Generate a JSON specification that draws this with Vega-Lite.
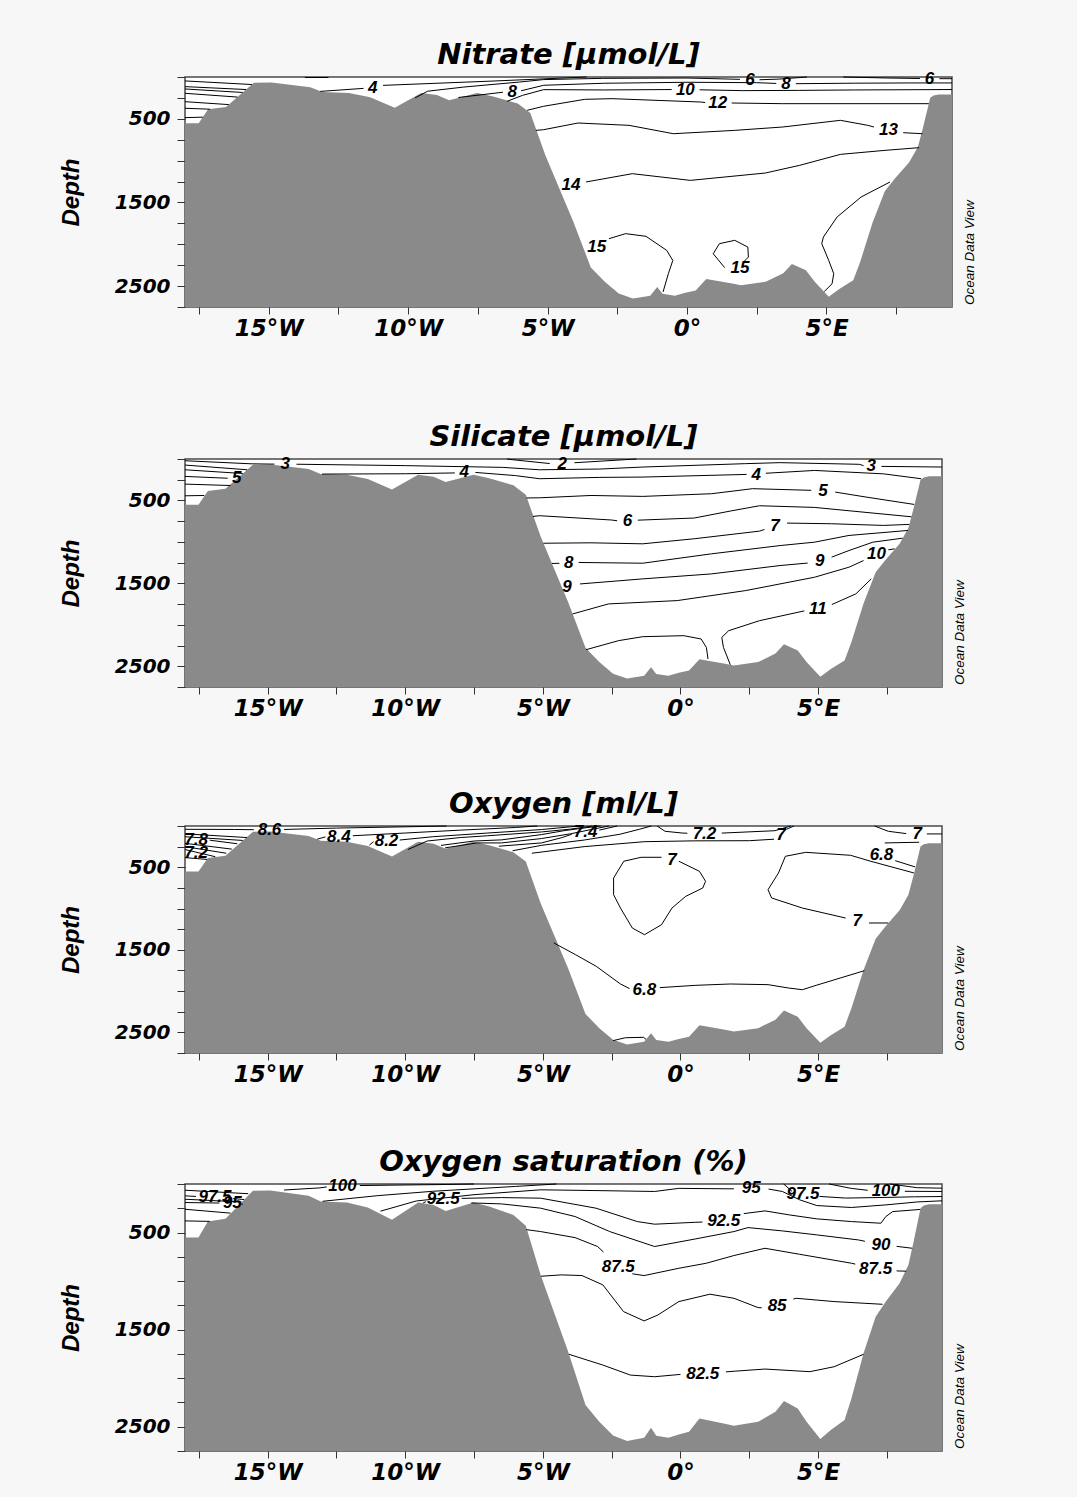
{
  "$schema": "https://vega.github.io/schema/vega-lite/v6.json",
  "background": "#f7f7f7",
  "padding": {"left": 58, "top": 40, "right": 104, "bottom": 14},
  "config": {
    "view": {"stroke": "#4a4a4a", "strokeWidth": 1.5, "fill": "white"},
    "title": {"font": "DejaVu Sans", "fontSize": 29, "fontStyle": "italic", "fontWeight": "bold", "color": "black", "offset": -3, "anchor": "middle"},
    "axis": {"grid": false, "domain": false, "tickColor": "#333", "labelColor": "black", "titleColor": "black", "labelFont": "DejaVu Sans", "labelFontStyle": "italic", "labelFontWeight": "bold", "labelOverlap": false, "labelFlush": false},
    "axisX": {"tickSize": 7, "labelFontSize": 23, "labelPadding": 3},
    "axisY": {"tickSize": 8, "labelFontSize": 20, "labelPadding": 7, "titleFont": "Liberation Sans", "titleFontSize": 24, "titleFontStyle": "italic", "titleFontWeight": "bold", "titlePadding": 31},
    "text": {"font": "Liberation Sans", "fontSize": 17, "fontStyle": "italic", "fontWeight": "bold", "color": "black"},
    "line": {"color": "black", "strokeWidth": 1}
  },
  "datasets": {
    "bathy": [
      {"lon": -18, "depth": 552}, {"lon": -17.51, "depth": 552}, {"lon": -17.17, "depth": 387}, {"lon": -16.53, "depth": 359}, {"lon": -15.53, "depth": 70}, {"lon": -14.9, "depth": 67}, {"lon": -13.51, "depth": 122}, {"lon": -13.07, "depth": 180}, {"lon": -12.12, "depth": 191}, {"lon": -11.36, "depth": 242}, {"lon": -10.48, "depth": 369}, {"lon": -9.53, "depth": 191}, {"lon": -8.97, "depth": 215}, {"lon": -8.53, "depth": 277}, {"lon": -7.52, "depth": 191}, {"lon": -6.95, "depth": 232}, {"lon": -6.07, "depth": 318}, {"lon": -5.62, "depth": 431}, {"lon": -5.08, "depth": 936}, {"lon": -4.08, "depth": 1727}, {"lon": -3.45, "depth": 2277}, {"lon": -2.95, "depth": 2449}, {"lon": -2.45, "depth": 2590}, {"lon": -1.94, "depth": 2648}, {"lon": -1.32, "depth": 2614}, {"lon": -1.07, "depth": 2511}, {"lon": -0.88, "depth": 2593}, {"lon": -0.44, "depth": 2614}, {"lon": -0.06, "depth": 2579}, {"lon": 0.31, "depth": 2552}, {"lon": 0.69, "depth": 2414}, {"lon": 1.57, "depth": 2466}, {"lon": 1.94, "depth": 2490}, {"lon": 2.82, "depth": 2449}, {"lon": 3.45, "depth": 2346}, {"lon": 3.76, "depth": 2235}, {"lon": 4.26, "depth": 2311}, {"lon": 4.58, "depth": 2449}, {"lon": 5.08, "depth": 2627}, {"lon": 5.46, "depth": 2534}, {"lon": 5.96, "depth": 2431}, {"lon": 6.21, "depth": 2208}, {"lon": 6.65, "depth": 1744}, {"lon": 7.09, "depth": 1366}, {"lon": 7.46, "depth": 1211}, {"lon": 7.96, "depth": 1022}, {"lon": 8.28, "depth": 833}, {"lon": 8.47, "depth": 593}, {"lon": 8.72, "depth": 249}, {"lon": 8.84, "depth": 222}, {"lon": 9.03, "depth": 208}, {"lon": 9.5, "depth": 208}
    ],
    "odv": [{"lon": 9.5, "depth": 2750, "t": "Ocean Data View"}],
    "no3": [
      {"id": "L1", "lon": -18, "depth": 47}, {"id": "L1", "lon": -15.6, "depth": 90},
      {"id": "L2", "lon": -18, "depth": 115}, {"id": "L2", "lon": -15.81, "depth": 150},
      {"id": "L3", "lon": -18, "depth": 143}, {"id": "L3", "lon": -15.93, "depth": 185},
      {"id": "L4", "lon": -18, "depth": 195}, {"id": "L4", "lon": -16.12, "depth": 240},
      {"id": "L5", "lon": -18, "depth": 295}, {"id": "L5", "lon": -16.43, "depth": 330},
      {"id": "L6", "lon": -18, "depth": 374}, {"id": "L6", "lon": -17.1, "depth": 385},
      {"id": "L7", "lon": -18, "depth": 486}, {"id": "L7", "lon": -17.36, "depth": 480},
      {"id": "T", "lon": -13.7, "depth": 6}, {"id": "T", "lon": -12.86, "depth": 6},
      {"id": "c4a", "lon": -13.15, "depth": 172}, {"id": "c4a", "lon": -11.6, "depth": 136},
      {"id": "c4b", "lon": -10.9, "depth": 100}, {"id": "c4b", "lon": -6.92, "depth": 48}, {"id": "c4b", "lon": -3.6, "depth": 0},
      {"id": "c6a", "lon": -9.75, "depth": 250}, {"id": "c6a", "lon": -9.3, "depth": 170}, {"id": "c6a", "lon": -8, "depth": 120}, {"id": "c6a", "lon": -6, "depth": 60}, {"id": "c6a", "lon": -5.14, "depth": 31}, {"id": "c6a", "lon": -2.99, "depth": 16}, {"id": "c6a", "lon": 0, "depth": 12}, {"id": "c6a", "lon": 1.9, "depth": 28},
      {"id": "c6b", "lon": 2.6, "depth": 33}, {"id": "c6b", "lon": 3.3, "depth": 25}, {"id": "c6b", "lon": 4.3, "depth": 0},
      {"id": "c6c", "lon": 5.6, "depth": 0}, {"id": "c6c", "lon": 7.2, "depth": 12}, {"id": "c6c", "lon": 8.35, "depth": 18},
      {"id": "c6d", "lon": 9.05, "depth": 20}, {"id": "c6d", "lon": 9.5, "depth": 20},
      {"id": "c8a", "lon": -8.2, "depth": 245}, {"id": "c8a", "lon": -6.6, "depth": 182},
      {"id": "c8b", "lon": -5.95, "depth": 165}, {"id": "c8b", "lon": -5.14, "depth": 99}, {"id": "c8b", "lon": -2.99, "depth": 75}, {"id": "c8b", "lon": 0, "depth": 63}, {"id": "c8b", "lon": 2.5, "depth": 68}, {"id": "c8b", "lon": 3.2, "depth": 77},
      {"id": "c8c", "lon": 3.9, "depth": 80}, {"id": "c8c", "lon": 6, "depth": 74}, {"id": "c8c", "lon": 8, "depth": 71}, {"id": "c8c", "lon": 9.5, "depth": 71},
      {"id": "c10a", "lon": -6.45, "depth": 290}, {"id": "c10a", "lon": -5.9, "depth": 220}, {"id": "c10a", "lon": -5.14, "depth": 151}, {"id": "c10a", "lon": -2.99, "depth": 155}, {"id": "c10a", "lon": -0.55, "depth": 150},
      {"id": "c10b", "lon": 0.45, "depth": 153}, {"id": "c10b", "lon": 2, "depth": 163}, {"id": "c10b", "lon": 4, "depth": 160}, {"id": "c10b", "lon": 6, "depth": 155}, {"id": "c10b", "lon": 9.5, "depth": 150},
      {"id": "c12a", "lon": -5.73, "depth": 398}, {"id": "c12a", "lon": -5.14, "depth": 350}, {"id": "c12a", "lon": -3.67, "depth": 267}, {"id": "c12a", "lon": -2.69, "depth": 259}, {"id": "c12a", "lon": 0.49, "depth": 299}, {"id": "c12a", "lon": 0.65, "depth": 305},
      {"id": "c12b", "lon": 1.6, "depth": 311}, {"id": "c12b", "lon": 3.43, "depth": 319}, {"id": "c12b", "lon": 8.67, "depth": 319},
      {"id": "c13a", "lon": -5.42, "depth": 638}, {"id": "c13a", "lon": -5.14, "depth": 630}, {"id": "c13a", "lon": -3.91, "depth": 550}, {"id": "c13a", "lon": -2.08, "depth": 578}, {"id": "c13a", "lon": -0.49, "depth": 678}, {"id": "c13a", "lon": 1.71, "depth": 638}, {"id": "c13a", "lon": 3.43, "depth": 598}, {"id": "c13a", "lon": 5.5, "depth": 518}, {"id": "c13a", "lon": 6.48, "depth": 578}, {"id": "c13a", "lon": 6.7, "depth": 598},
      {"id": "c13b", "lon": 7.75, "depth": 666}, {"id": "c13b", "lon": 8.44, "depth": 678},
      {"id": "c14", "lon": -3.62, "depth": 1255}, {"id": "c14", "lon": -1.96, "depth": 1156}, {"id": "c14", "lon": 0.12, "depth": 1236}, {"id": "c14", "lon": 2.81, "depth": 1148}, {"id": "c14", "lon": 4.04, "depth": 1056}, {"id": "c14", "lon": 5.5, "depth": 925}, {"id": "c14", "lon": 7.1, "depth": 877}, {"id": "c14", "lon": 8.32, "depth": 845},
      {"id": "c15a", "lon": -2.8, "depth": 1933}, {"id": "c15a", "lon": -2.2, "depth": 1873}, {"id": "c15a", "lon": -1.47, "depth": 1905}, {"id": "c15a", "lon": -0.73, "depth": 2073}, {"id": "c15a", "lon": -0.51, "depth": 2193}, {"id": "c15a", "lon": -0.67, "depth": 2352}, {"id": "c15a", "lon": -0.86, "depth": 2570},
      {"id": "c15b", "lon": 1.35, "depth": 2280}, {"id": "c15b", "lon": 0.94, "depth": 2113}, {"id": "c15b", "lon": 1.16, "depth": 1993}, {"id": "c15b", "lon": 1.71, "depth": 1953}, {"id": "c15b", "lon": 2.18, "depth": 2033}, {"id": "c15b", "lon": 2.2, "depth": 2153}, {"id": "c15b", "lon": 2.02, "depth": 2213},
      {"id": "c15c", "lon": 7.28, "depth": 1255}, {"id": "c15c", "lon": 6.24, "depth": 1435}, {"id": "c15c", "lon": 5.38, "depth": 1674}, {"id": "c15c", "lon": 4.89, "depth": 1913}, {"id": "c15c", "lon": 4.83, "depth": 1993}, {"id": "c15c", "lon": 5.08, "depth": 2193}, {"id": "c15c", "lon": 5.26, "depth": 2352}, {"id": "c15c", "lon": 5.2, "depth": 2472}, {"id": "c15c", "lon": 4.92, "depth": 2565}
    ],
    "no3l": [
      {"lon": -11.27, "depth": 127, "t": "4"}, {"lon": -6.27, "depth": 175, "t": "8"}, {"lon": -0.06, "depth": 151, "t": "10"}, {"lon": 2.26, "depth": 31, "t": "6"}, {"lon": 3.55, "depth": 79, "t": "8"}, {"lon": 8.69, "depth": 19, "t": "6"},
      {"lon": 1.1, "depth": 311, "t": "12"}, {"lon": 7.22, "depth": 638, "t": "13"}, {"lon": -4.16, "depth": 1295, "t": "14"}, {"lon": -3.24, "depth": 2033, "t": "15"}, {"lon": 1.9, "depth": 2280, "t": "15"}
    ],
    "sil": [
      {"id": "L2", "lon": -18, "depth": 73}, {"id": "L2", "lon": -15.74, "depth": 130},
      {"id": "L3", "lon": -18, "depth": 130}, {"id": "L3", "lon": -15.9, "depth": 175},
      {"id": "L4", "lon": -18, "depth": 210}, {"id": "L4", "lon": -16.45, "depth": 232},
      {"id": "L5", "lon": -18, "depth": 303}, {"id": "L5", "lon": -16.35, "depth": 320},
      {"id": "L6", "lon": -18, "depth": 444}, {"id": "L6", "lon": -17.3, "depth": 440},
      {"id": "s2a", "lon": -6.3, "depth": 0}, {"id": "s2a", "lon": -6.09, "depth": 9}, {"id": "s2a", "lon": -4.75, "depth": 55},
      {"id": "s2b", "lon": -3.85, "depth": 45}, {"id": "s2b", "lon": -2, "depth": 8}, {"id": "s2b", "lon": -1.6, "depth": 0},
      {"id": "s3a", "lon": -18, "depth": 21}, {"id": "s3a", "lon": -15.6, "depth": 58}, {"id": "s3a", "lon": -14.75, "depth": 62},
      {"id": "s3b", "lon": -13.95, "depth": 63}, {"id": "s3b", "lon": -10, "depth": 80}, {"id": "s3b", "lon": -6.46, "depth": 101}, {"id": "s3b", "lon": -5.12, "depth": 130}, {"id": "s3b", "lon": -2.93, "depth": 121}, {"id": "s3b", "lon": -1.37, "depth": 97}, {"id": "s3b", "lon": 2.37, "depth": 56}, {"id": "s3b", "lon": 3.62, "depth": 44}, {"id": "s3b", "lon": 6.49, "depth": 64}, {"id": "s3b", "lon": 6.65, "depth": 80},
      {"id": "s3c", "lon": 7.3, "depth": 89}, {"id": "s3c", "lon": 9.5, "depth": 97},
      {"id": "s4a", "lon": -13.02, "depth": 182}, {"id": "s4a", "lon": -10, "depth": 178}, {"id": "s4a", "lon": -8.2, "depth": 168},
      {"id": "s4b", "lon": -7.45, "depth": 162}, {"id": "s4b", "lon": -6, "depth": 200}, {"id": "s4b", "lon": -5.12, "depth": 238}, {"id": "s4b", "lon": -2.93, "depth": 222}, {"id": "s4b", "lon": -1.37, "depth": 218}, {"id": "s4b", "lon": 2.4, "depth": 186},
      {"id": "s4c", "lon": 3.1, "depth": 172}, {"id": "s4c", "lon": 4.87, "depth": 138}, {"id": "s4c", "lon": 7.37, "depth": 179}, {"id": "s4c", "lon": 8.74, "depth": 238},
      {"id": "s5a", "lon": -5.6, "depth": 470}, {"id": "s5a", "lon": -5.12, "depth": 468}, {"id": "s5a", "lon": -3.25, "depth": 440}, {"id": "s5a", "lon": -1.37, "depth": 451}, {"id": "s5a", "lon": 1.12, "depth": 419}, {"id": "s5a", "lon": 2.62, "depth": 358}, {"id": "s5a", "lon": 4.75, "depth": 378},
      {"id": "s5b", "lon": 5.62, "depth": 399}, {"id": "s5b", "lon": 6.74, "depth": 459}, {"id": "s5b", "lon": 8.49, "depth": 548},
      {"id": "s6a", "lon": -5.36, "depth": 693}, {"id": "s6a", "lon": -5.12, "depth": 684}, {"id": "s6a", "lon": -2.5, "depth": 736}, {"id": "s6a", "lon": -2.3, "depth": 745},
      {"id": "s6b", "lon": -1.55, "depth": 738}, {"id": "s6b", "lon": 0.5, "depth": 712}, {"id": "s6b", "lon": 1.87, "depth": 624}, {"id": "s6b", "lon": 2.87, "depth": 564}, {"id": "s6b", "lon": 4.87, "depth": 584}, {"id": "s6b", "lon": 6.74, "depth": 644}, {"id": "s6b", "lon": 8.39, "depth": 697},
      {"id": "s7a", "lon": -4.98, "depth": 1016}, {"id": "s7a", "lon": -3.25, "depth": 1011}, {"id": "s7a", "lon": -1.37, "depth": 1023}, {"id": "s7a", "lon": 0.5, "depth": 962}, {"id": "s7a", "lon": 2.87, "depth": 870}, {"id": "s7a", "lon": 3.05, "depth": 850},
      {"id": "s7b", "lon": 3.87, "depth": 773}, {"id": "s7b", "lon": 5.49, "depth": 781}, {"id": "s7b", "lon": 7.37, "depth": 801}, {"id": "s7b", "lon": 8.31, "depth": 789},
      {"id": "s8a", "lon": -4.67, "depth": 1260}, {"id": "s8a", "lon": -4.4, "depth": 1258},
      {"id": "s8b", "lon": -3.7, "depth": 1248}, {"id": "s8b", "lon": -1.37, "depth": 1257}, {"id": "s8b", "lon": 1.12, "depth": 1144}, {"id": "s8b", "lon": 3.62, "depth": 1044}, {"id": "s8b", "lon": 4.87, "depth": 1003}, {"id": "s8b", "lon": 6.12, "depth": 922}, {"id": "s8b", "lon": 8.26, "depth": 862},
      {"id": "s9a", "lon": -3.65, "depth": 1507}, {"id": "s9a", "lon": -1.37, "depth": 1446}, {"id": "s9a", "lon": 1.12, "depth": 1386}, {"id": "s9a", "lon": 3.62, "depth": 1285}, {"id": "s9a", "lon": 4.62, "depth": 1255},
      {"id": "s9b", "lon": 5.49, "depth": 1184}, {"id": "s9b", "lon": 6.12, "depth": 1104}, {"id": "s9b", "lon": 6.99, "depth": 1003}, {"id": "s9b", "lon": 8.07, "depth": 955},
      {"id": "s10a", "lon": -3.92, "depth": 1869}, {"id": "s10a", "lon": -2.62, "depth": 1748}, {"id": "s10a", "lon": -0.12, "depth": 1708}, {"id": "s10a", "lon": 2.37, "depth": 1587}, {"id": "s10a", "lon": 4.87, "depth": 1426}, {"id": "s10a", "lon": 6.12, "depth": 1305}, {"id": "s10a", "lon": 6.65, "depth": 1225},
      {"id": "s10b", "lon": 7.55, "depth": 1095}, {"id": "s10b", "lon": 7.78, "depth": 1084},
      {"id": "s11a", "lon": -3.43, "depth": 2300}, {"id": "s11a", "lon": -2.25, "depth": 2191}, {"id": "s11a", "lon": -1.37, "depth": 2143}, {"id": "s11a", "lon": 0.12, "depth": 2131}, {"id": "s11a", "lon": 0.75, "depth": 2171}, {"id": "s11a", "lon": 0.94, "depth": 2272}, {"id": "s11a", "lon": 1.0, "depth": 2413},
      {"id": "s11b", "lon": 1.81, "depth": 2482}, {"id": "s11b", "lon": 1.56, "depth": 2272}, {"id": "s11b", "lon": 1.5, "depth": 2151}, {"id": "s11b", "lon": 1.75, "depth": 2071}, {"id": "s11b", "lon": 2.87, "depth": 1950}, {"id": "s11b", "lon": 4.5, "depth": 1832},
      {"id": "s11c", "lon": 5.5, "depth": 1755}, {"id": "s11c", "lon": 6.37, "depth": 1627}, {"id": "s11c", "lon": 6.93, "depth": 1446}
    ],
    "sill": [
      {"lon": -4.3, "depth": 55, "t": "2"}, {"lon": -14.36, "depth": 61, "t": "3"}, {"lon": 6.93, "depth": 89, "t": "3"}, {"lon": -7.86, "depth": 154, "t": "4"}, {"lon": 2.75, "depth": 190, "t": "4"}, {"lon": -16.12, "depth": 234, "t": "5"}, {"lon": 5.18, "depth": 386, "t": "5"},
      {"lon": -1.93, "depth": 752, "t": "6"}, {"lon": 3.43, "depth": 813, "t": "7"}, {"lon": -4.06, "depth": 1257, "t": "8"}, {"lon": -4.12, "depth": 1547, "t": "9"}, {"lon": 5.06, "depth": 1233, "t": "9"}, {"lon": 7.12, "depth": 1144, "t": "10"}, {"lon": 4.99, "depth": 1809, "t": "11"}
    ],
    "oxy": [
      {"id": "L1", "lon": -18, "depth": 40}, {"id": "L1", "lon": -16.2, "depth": 42}, {"id": "L1", "lon": -15.5, "depth": 45},
      {"id": "L1b", "lon": -14.4, "depth": 42}, {"id": "L1b", "lon": -12.5, "depth": 25}, {"id": "L1b", "lon": -10, "depth": 10}, {"id": "L1b", "lon": -8.5, "depth": 0},
      {"id": "L2", "lon": -18, "depth": 95}, {"id": "L2", "lon": -15.75, "depth": 140},
      {"id": "L3", "lon": -18, "depth": 130}, {"id": "L3", "lon": -15.9, "depth": 175},
      {"id": "L4", "lon": -17.1, "depth": 172}, {"id": "L4", "lon": -16.1, "depth": 215},
      {"id": "L5", "lon": -18, "depth": 210}, {"id": "L5", "lon": -16.3, "depth": 280},
      {"id": "L6", "lon": -18, "depth": 250}, {"id": "L6", "lon": -16.5, "depth": 330},
      {"id": "L7", "lon": -18, "depth": 285}, {"id": "L7", "lon": -16.9, "depth": 372},
      {"id": "L8", "lon": -18, "depth": 383}, {"id": "L8", "lon": -17.2, "depth": 405},
      {"id": "o84a", "lon": -13.2, "depth": 160}, {"id": "o84a", "lon": -12.9, "depth": 132},
      {"id": "o84b", "lon": -11.9, "depth": 118}, {"id": "o84b", "lon": -10, "depth": 85}, {"id": "o84b", "lon": -8, "depth": 50}, {"id": "o84b", "lon": -6, "depth": 18}, {"id": "o84b", "lon": -5.2, "depth": 0},
      {"id": "o82a", "lon": -11.3, "depth": 232}, {"id": "o82a", "lon": -11.15, "depth": 190},
      {"id": "o82b", "lon": -10.2, "depth": 170}, {"id": "o82b", "lon": -9, "depth": 130}, {"id": "o82b", "lon": -7, "depth": 85}, {"id": "o82b", "lon": -5.05, "depth": 43}, {"id": "o82b", "lon": -4, "depth": 10}, {"id": "o82b", "lon": -3.6, "depth": 0},
      {"id": "o80", "lon": -9.9, "depth": 285}, {"id": "o80", "lon": -9.2, "depth": 182}, {"id": "o80", "lon": -8, "depth": 140}, {"id": "o80", "lon": -7, "depth": 118}, {"id": "o80", "lon": -5.05, "depth": 72}, {"id": "o80", "lon": -4, "depth": 38}, {"id": "o80", "lon": -3.2, "depth": 0},
      {"id": "o78", "lon": -8.7, "depth": 235}, {"id": "o78", "lon": -7.5, "depth": 182}, {"id": "o78", "lon": -6.5, "depth": 168}, {"id": "o78", "lon": -5.05, "depth": 104}, {"id": "o78", "lon": -4.2, "depth": 55}, {"id": "o78", "lon": -3.4, "depth": 20}, {"id": "o78", "lon": -2.9, "depth": 0},
      {"id": "o76", "lon": -8.55, "depth": 265}, {"id": "o76", "lon": -7.4, "depth": 205}, {"id": "o76", "lon": -6.5, "depth": 205}, {"id": "o76", "lon": -5.05, "depth": 152}, {"id": "o76", "lon": -4, "depth": 95}, {"id": "o76", "lon": -3.2, "depth": 40}, {"id": "o76", "lon": -2.6, "depth": 0},
      {"id": "o74a", "lon": -6.6, "depth": 245}, {"id": "o74a", "lon": -5.05, "depth": 205}, {"id": "o74a", "lon": -4.3, "depth": 140}, {"id": "o74a", "lon": -3.95, "depth": 100},
      {"id": "o74b", "lon": -2.95, "depth": 50}, {"id": "o74b", "lon": -2.3, "depth": 0},
      {"id": "o72a", "lon": -6.1, "depth": 300}, {"id": "o72a", "lon": -5.05, "depth": 234}, {"id": "o72a", "lon": -3.5, "depth": 170}, {"id": "o72a", "lon": -2.2, "depth": 100}, {"id": "o72a", "lon": -1.5, "depth": 40}, {"id": "o72a", "lon": -1.06, "depth": 0},
      {"id": "o72b", "lon": -0.85, "depth": 0}, {"id": "o72b", "lon": -0.56, "depth": 64}, {"id": "o72b", "lon": 0.06, "depth": 85}, {"id": "o72b", "lon": 0.25, "depth": 88},
      {"id": "o72c", "lon": 1.5, "depth": 86}, {"id": "o72c", "lon": 3.43, "depth": 57}, {"id": "o72c", "lon": 4.0, "depth": 0},
      {"id": "o70a", "lon": -5.4, "depth": 330}, {"id": "o70a", "lon": -3.5, "depth": 250}, {"id": "o70a", "lon": -1.3, "depth": 190}, {"id": "o70a", "lon": 0.5, "depth": 180}, {"id": "o70a", "lon": 2.5, "depth": 178}, {"id": "o70a", "lon": 3.4, "depth": 160},
      {"id": "o70b", "lon": 3.85, "depth": 40}, {"id": "o70b", "lon": 4.12, "depth": 0},
      {"id": "o70c", "lon": 7.05, "depth": 0}, {"id": "o70c", "lon": 7.55, "depth": 64}, {"id": "o70c", "lon": 8.2, "depth": 92},
      {"id": "o70d", "lon": 8.95, "depth": 96}, {"id": "o70d", "lon": 9.5, "depth": 96},
      {"id": "o69", "lon": 7.42, "depth": 205}, {"id": "o69", "lon": 8.67, "depth": 197},
      {"id": "o7L", "lon": -0.06, "depth": 427}, {"id": "o7L", "lon": 0.69, "depth": 549}, {"id": "o7L", "lon": 0.91, "depth": 670}, {"id": "o7L", "lon": 0.81, "depth": 751}, {"id": "o7L", "lon": 0.19, "depth": 852}, {"id": "o7L", "lon": -0.31, "depth": 994}, {"id": "o7L", "lon": -0.69, "depth": 1196}, {"id": "o7L", "lon": -1.31, "depth": 1317}, {"id": "o7L", "lon": -1.75, "depth": 1236}, {"id": "o7L", "lon": -2.18, "depth": 994}, {"id": "o7L", "lon": -2.43, "depth": 832}, {"id": "o7L", "lon": -2.43, "depth": 630}, {"id": "o7L", "lon": -2.06, "depth": 427}, {"id": "o7L", "lon": -1.43, "depth": 379}, {"id": "o7L", "lon": -0.69, "depth": 379},
      {"id": "o7Ra", "lon": 7.55, "depth": 1175}, {"id": "o7Ra", "lon": 6.85, "depth": 1175},
      {"id": "o7Rb", "lon": 6.0, "depth": 1115}, {"id": "o7Rb", "lon": 4.43, "depth": 994}, {"id": "o7Rb", "lon": 3.31, "depth": 872}, {"id": "o7Rb", "lon": 3.18, "depth": 771}, {"id": "o7Rb", "lon": 3.56, "depth": 569}, {"id": "o7Rb", "lon": 3.81, "depth": 367}, {"id": "o7Rb", "lon": 4.55, "depth": 319}, {"id": "o7Rb", "lon": 6.18, "depth": 355}, {"id": "o7Rb", "lon": 6.92, "depth": 428}, {"id": "o7Rb", "lon": 8.48, "depth": 569},
      {"id": "o68r", "lon": 7.8, "depth": 420}, {"id": "o68r", "lon": 8.52, "depth": 495},
      {"id": "o68a", "lon": -4.6, "depth": 1417}, {"id": "o68a", "lon": -3.81, "depth": 1559}, {"id": "o68a", "lon": -3.06, "depth": 1700}, {"id": "o68a", "lon": -2.18, "depth": 1914}, {"id": "o68a", "lon": -1.85, "depth": 1970},
      {"id": "o68b", "lon": -0.75, "depth": 1958}, {"id": "o68b", "lon": 0.56, "depth": 1930}, {"id": "o68b", "lon": 1.81, "depth": 1914}, {"id": "o68b", "lon": 3.18, "depth": 1922}, {"id": "o68b", "lon": 3.93, "depth": 1963}, {"id": "o68b", "lon": 4.43, "depth": 1983}, {"id": "o68b", "lon": 4.93, "depth": 1930}, {"id": "o68b", "lon": 5.8, "depth": 1842}, {"id": "o68b", "lon": 6.68, "depth": 1753},
      {"id": "o68c", "lon": -2.45, "depth": 2600}, {"id": "o68c", "lon": -2.0, "depth": 2565}, {"id": "o68c", "lon": -1.34, "depth": 2560}, {"id": "o68c", "lon": -1.25, "depth": 2585}
    ],
    "oxyl": [
      {"lon": -17.6, "depth": 169, "t": "7.8"}, {"lon": -17.6, "depth": 322, "t": "7.2"}, {"lon": -14.93, "depth": 47, "t": "8.6"}, {"lon": -12.41, "depth": 128, "t": "8.4"}, {"lon": -10.68, "depth": 181, "t": "8.2"}, {"lon": -3.45, "depth": 72, "t": "7.4"},
      {"lon": 0.87, "depth": 96, "t": "7.2"}, {"lon": 3.65, "depth": 105, "t": "7"}, {"lon": 8.6, "depth": 96, "t": "7"}, {"lon": 7.3, "depth": 346, "t": "6.8"},
      {"lon": -0.31, "depth": 407, "t": "7"}, {"lon": 6.42, "depth": 1155, "t": "7"}, {"lon": -1.31, "depth": 1983, "t": "6.8"}
    ],
    "sat": [
      {"id": "L1", "lon": -18, "depth": 64}, {"id": "L1", "lon": -15.7, "depth": 100},
      {"id": "L2a", "lon": -18, "depth": 122}, {"id": "L2a", "lon": -17.6, "depth": 128},
      {"id": "L2b", "lon": -16.25, "depth": 150}, {"id": "L2b", "lon": -15.85, "depth": 160},
      {"id": "L3", "lon": -18, "depth": 157}, {"id": "L3", "lon": -15.95, "depth": 185},
      {"id": "L4a", "lon": -18, "depth": 191}, {"id": "L4a", "lon": -16.75, "depth": 196},
      {"id": "L4b", "lon": -15.95, "depth": 205}, {"id": "L4b", "lon": -15.9, "depth": 210},
      {"id": "L5", "lon": -18, "depth": 260}, {"id": "L5", "lon": -16.35, "depth": 300},
      {"id": "L6", "lon": -18, "depth": 380}, {"id": "L6", "lon": -17.1, "depth": 385},
      {"id": "p100a", "lon": -14.4, "depth": 62}, {"id": "p100a", "lon": -13.1, "depth": 40}, {"id": "p100a", "lon": -12.85, "depth": 30},
      {"id": "p100b", "lon": -11.65, "depth": 16}, {"id": "p100b", "lon": -10, "depth": 10}, {"id": "p100b", "lon": -8.5, "depth": 5}, {"id": "p100b", "lon": -7.5, "depth": 0},
      {"id": "p975", "lon": -13.0, "depth": 178}, {"id": "p975", "lon": -11, "depth": 120}, {"id": "p975", "lon": -9, "depth": 75}, {"id": "p975", "lon": -7.5, "depth": 50}, {"id": "p975", "lon": -6, "depth": 25}, {"id": "p975", "lon": -4.5, "depth": 0},
      {"id": "p95a", "lon": -10.9, "depth": 280}, {"id": "p95a", "lon": -9.6, "depth": 175}, {"id": "p95a", "lon": -7.5, "depth": 110}, {"id": "p95a", "lon": -5.08, "depth": 60}, {"id": "p95a", "lon": -3, "depth": 68}, {"id": "p95a", "lon": -0.94, "depth": 77}, {"id": "p95a", "lon": -0.06, "depth": 45}, {"id": "p95a", "lon": 1.94, "depth": 50},
      {"id": "p95b", "lon": 3.2, "depth": 52}, {"id": "p95b", "lon": 3.7, "depth": 77}, {"id": "p95b", "lon": 4.33, "depth": 163}, {"id": "p95b", "lon": 4.95, "depth": 222}, {"id": "p95b", "lon": 6.21, "depth": 242}, {"id": "p95b", "lon": 7.46, "depth": 215}, {"id": "p95b", "lon": 8.6, "depth": 185}, {"id": "p95b", "lon": 9.5, "depth": 173},
      {"id": "p975r", "lon": 3.75, "depth": 0}, {"id": "p975r", "lon": 3.95, "depth": 50}, {"id": "p975r", "lon": 4.05, "depth": 75},
      {"id": "p975s", "lon": 5.05, "depth": 128}, {"id": "p975s", "lon": 6, "depth": 145}, {"id": "p975s", "lon": 7.5, "depth": 138}, {"id": "p975s", "lon": 8.5, "depth": 132}, {"id": "p975s", "lon": 9.5, "depth": 129},
      {"id": "p100r", "lon": 5.4, "depth": 0}, {"id": "p100r", "lon": 6.2, "depth": 45}, {"id": "p100r", "lon": 6.8, "depth": 65},
      {"id": "p100s", "lon": 8.15, "depth": 75}, {"id": "p100s", "lon": 9.5, "depth": 77},
      {"id": "p1025r", "lon": 7.6, "depth": 0}, {"id": "p1025r", "lon": 8.6, "depth": 38}, {"id": "p1025r", "lon": 9.5, "depth": 43},
      {"id": "p925a", "lon": -9.35, "depth": 196}, {"id": "p925a", "lon": -9.25, "depth": 182},
      {"id": "p925b", "lon": -7.95, "depth": 148}, {"id": "p925b", "lon": -6.5, "depth": 140}, {"id": "p925b", "lon": -5.08, "depth": 146}, {"id": "p925b", "lon": -3.07, "depth": 249}, {"id": "p925b", "lon": -1.57, "depth": 387}, {"id": "p925b", "lon": -0.94, "depth": 414}, {"id": "p925b", "lon": 0.56, "depth": 394}, {"id": "p925b", "lon": 0.8, "depth": 392},
      {"id": "p925c", "lon": 2.3, "depth": 305}, {"id": "p925c", "lon": 3.07, "depth": 277}, {"id": "p925c", "lon": 3.95, "depth": 318}, {"id": "p925c", "lon": 4.95, "depth": 359}, {"id": "p925c", "lon": 6.21, "depth": 387}, {"id": "p925c", "lon": 7.28, "depth": 404}, {"id": "p925c", "lon": 7.46, "depth": 335}, {"id": "p925c", "lon": 7.71, "depth": 284}, {"id": "p925c", "lon": 8.71, "depth": 262},
      {"id": "p90a", "lon": -7.6, "depth": 195}, {"id": "p90a", "lon": -6.5, "depth": 205}, {"id": "p90a", "lon": -5.08, "depth": 249}, {"id": "p90a", "lon": -3.83, "depth": 335}, {"id": "p90a", "lon": -2.57, "depth": 490}, {"id": "p90a", "lon": -0.94, "depth": 644}, {"id": "p90a", "lon": 0.56, "depth": 565}, {"id": "p90a", "lon": 1.94, "depth": 490}, {"id": "p90a", "lon": 2.45, "depth": 449}, {"id": "p90a", "lon": 3.7, "depth": 483}, {"id": "p90a", "lon": 4.95, "depth": 524}, {"id": "p90a", "lon": 6.46, "depth": 576}, {"id": "p90a", "lon": 6.7, "depth": 590},
      {"id": "p90b", "lon": 7.85, "depth": 642}, {"id": "p90b", "lon": 8.42, "depth": 662},
      {"id": "p875a", "lon": -5.6, "depth": 470}, {"id": "p875a", "lon": -5.08, "depth": 490}, {"id": "p875a", "lon": -3.83, "depth": 552}, {"id": "p875a", "lon": -3.01, "depth": 644}, {"id": "p875a", "lon": -2.8, "depth": 700},
      {"id": "p875b", "lon": -1.75, "depth": 925}, {"id": "p875b", "lon": -1.32, "depth": 943}, {"id": "p875b", "lon": -0.06, "depth": 868}, {"id": "p875b", "lon": 0.94, "depth": 816}, {"id": "p875b", "lon": 1.94, "depth": 737}, {"id": "p875b", "lon": 3.07, "depth": 662}, {"id": "p875b", "lon": 4.33, "depth": 724}, {"id": "p875b", "lon": 6.21, "depth": 816}, {"id": "p875b", "lon": 6.35, "depth": 825},
      {"id": "p875c", "lon": 7.85, "depth": 895}, {"id": "p875c", "lon": 8.2, "depth": 898},
      {"id": "p85a", "lon": -5.07, "depth": 950}, {"id": "p85a", "lon": -4.33, "depth": 936}, {"id": "p85a", "lon": -3.58, "depth": 943}, {"id": "p85a", "lon": -2.82, "depth": 1039}, {"id": "p85a", "lon": -2.07, "depth": 1314}, {"id": "p85a", "lon": -1.32, "depth": 1410}, {"id": "p85a", "lon": -0.82, "depth": 1349}, {"id": "p85a", "lon": -0.06, "depth": 1211}, {"id": "p85a", "lon": 1.07, "depth": 1135}, {"id": "p85a", "lon": 1.94, "depth": 1177}, {"id": "p85a", "lon": 2.82, "depth": 1273}, {"id": "p85a", "lon": 2.95, "depth": 1275},
      {"id": "p85b", "lon": 4.1, "depth": 1185}, {"id": "p85b", "lon": 4.2, "depth": 1177}, {"id": "p85b", "lon": 5.58, "depth": 1211}, {"id": "p85b", "lon": 7.34, "depth": 1239},
      {"id": "p825a", "lon": -4.05, "depth": 1754}, {"id": "p825a", "lon": -2.82, "depth": 1865}, {"id": "p825a", "lon": -1.82, "depth": 1968}, {"id": "p825a", "lon": -0.94, "depth": 1985}, {"id": "p825a", "lon": 0.0, "depth": 1961},
      {"id": "p825b", "lon": 1.65, "depth": 1935}, {"id": "p825b", "lon": 2.01, "depth": 1927}, {"id": "p825b", "lon": 3.07, "depth": 1906}, {"id": "p825b", "lon": 4.7, "depth": 1933}, {"id": "p825b", "lon": 5.58, "depth": 1882}, {"id": "p825b", "lon": 6.65, "depth": 1754}
    ],
    "satl": [
      {"lon": -16.91, "depth": 136, "t": "97.5"}, {"lon": -16.28, "depth": 198, "t": "95"}, {"lon": -12.28, "depth": 19, "t": "100"}, {"lon": -8.62, "depth": 156, "t": "92.5"},
      {"lon": 2.57, "depth": 43, "t": "95"}, {"lon": 4.45, "depth": 105, "t": "97.5"}, {"lon": 7.46, "depth": 70, "t": "100"},
      {"lon": 1.57, "depth": 380, "t": "92.5"}, {"lon": 7.28, "depth": 627, "t": "90"}, {"lon": -2.26, "depth": 851, "t": "87.5"}, {"lon": 7.09, "depth": 874, "t": "87.5"}, {"lon": 3.51, "depth": 1253, "t": "85"}, {"lon": 0.81, "depth": 1961, "t": "82.5"}
    ]
  },
  "vconcat": [
    {
      "title": "Nitrate [µmol/L]",
      "width": 767, "height": 230,
      "encoding": {
        "x": {"field": "lon", "type": "quantitative", "scale": {"domain": [-18, 9.5], "nice": false, "zero": false},
              "axis": {"title": null, "values": [-17.5, -15, -12.5, -10, -7.5, -5, -2.5, 0, 2.5, 5, 7.5], "labelExpr": "datum.value == 0 ? '0°' : (datum.value % 5 == 0 ? abs(datum.value) + '°' + (datum.value < 0 ? 'W' : 'E') : '')"}},
        "y": {"field": "depth", "type": "quantitative", "scale": {"domain": [0, 2750], "reverse": true, "nice": false, "zero": false},
              "axis": {"title": "Depth", "values": [0, 250, 500, 750, 1000, 1250, 1500, 1750, 2000, 2250, 2500, 2750], "labelExpr": "(datum.value == 500 || datum.value == 1500 || datum.value == 2500) ? '' + datum.value : ''"}}
      },
      "layer": [
        {"data": {"name": "bathy"}, "mark": {"type": "area", "color": "#8a8a8a"}, "encoding": {"y2": {"datum": 2750}}},
        {"data": {"name": "no3"}, "mark": {"type": "line"}, "encoding": {"detail": {"field": "id"}, "order": {"value": null}}},
        {"data": {"name": "no3l"}, "mark": {"type": "text"}, "encoding": {"text": {"field": "t"}}},
        {"data": {"name": "odv"}, "mark": {"type": "text", "angle": 270, "align": "left", "baseline": "top", "dy": 11, "dx": 2, "fontSize": 13.5, "fontWeight": "normal"}, "encoding": {"text": {"field": "t"}}}
      ]
    },
    {
      "vconcat": [
        {
          "title": "Silicate [µmol/L]",
          "width": 757, "height": 228,
          "encoding": {
            "x": {"field": "lon", "type": "quantitative", "scale": {"domain": [-18, 9.5], "nice": false, "zero": false},
                  "axis": {"title": null, "values": [-17.5, -15, -12.5, -10, -7.5, -5, -2.5, 0, 2.5, 5, 7.5], "labelExpr": "datum.value == 0 ? '0°' : (datum.value % 5 == 0 ? abs(datum.value) + '°' + (datum.value < 0 ? 'W' : 'E') : '')"}},
            "y": {"field": "depth", "type": "quantitative", "scale": {"domain": [0, 2750], "reverse": true, "nice": false, "zero": false},
                  "axis": {"title": "Depth", "values": [0, 250, 500, 750, 1000, 1250, 1500, 1750, 2000, 2250, 2500, 2750], "labelExpr": "(datum.value == 500 || datum.value == 1500 || datum.value == 2500) ? '' + datum.value : ''"}}
          },
          "layer": [
            {"data": {"name": "bathy"}, "mark": {"type": "area", "color": "#8a8a8a"}, "encoding": {"y2": {"datum": 2750}}},
            {"data": {"name": "sil"}, "mark": {"type": "line"}, "encoding": {"detail": {"field": "id"}, "order": {"value": null}}},
            {"data": {"name": "sill"}, "mark": {"type": "text"}, "encoding": {"text": {"field": "t"}}},
            {"data": {"name": "odv"}, "mark": {"type": "text", "angle": 270, "align": "left", "baseline": "top", "dy": 11, "dx": 2, "fontSize": 13.5, "fontWeight": "normal"}, "encoding": {"text": {"field": "t"}}}
          ]
        },
        {
          "vconcat": [
            {
              "title": "Oxygen [ml/L]",
              "width": 757, "height": 227,
              "encoding": {
                "x": {"field": "lon", "type": "quantitative", "scale": {"domain": [-18, 9.5], "nice": false, "zero": false},
                      "axis": {"title": null, "values": [-17.5, -15, -12.5, -10, -7.5, -5, -2.5, 0, 2.5, 5, 7.5], "labelExpr": "datum.value == 0 ? '0°' : (datum.value % 5 == 0 ? abs(datum.value) + '°' + (datum.value < 0 ? 'W' : 'E') : '')"}},
                "y": {"field": "depth", "type": "quantitative", "scale": {"domain": [0, 2750], "reverse": true, "nice": false, "zero": false},
                      "axis": {"title": "Depth", "values": [0, 250, 500, 750, 1000, 1250, 1500, 1750, 2000, 2250, 2500, 2750], "labelExpr": "(datum.value == 500 || datum.value == 1500 || datum.value == 2500) ? '' + datum.value : ''"}}
              },
              "layer": [
                {"data": {"name": "bathy"}, "mark": {"type": "area", "color": "#8a8a8a"}, "encoding": {"y2": {"datum": 2750}}},
                {"data": {"name": "oxy"}, "mark": {"type": "line"}, "encoding": {"detail": {"field": "id"}, "order": {"value": null}}},
                {"data": {"name": "oxyl"}, "mark": {"type": "text"}, "encoding": {"text": {"field": "t"}}},
                {"data": {"name": "odv"}, "mark": {"type": "text", "angle": 270, "align": "left", "baseline": "top", "dy": 11, "dx": 2, "fontSize": 13.5, "fontWeight": "normal"}, "encoding": {"text": {"field": "t"}}}
              ]
            },
            {
              "title": "Oxygen saturation (%)",
              "width": 757, "height": 267,
              "encoding": {
                "x": {"field": "lon", "type": "quantitative", "scale": {"domain": [-18, 9.5], "nice": false, "zero": false},
                      "axis": {"title": null, "values": [-17.5, -15, -12.5, -10, -7.5, -5, -2.5, 0, 2.5, 5, 7.5], "labelExpr": "datum.value == 0 ? '0°' : (datum.value % 5 == 0 ? abs(datum.value) + '°' + (datum.value < 0 ? 'W' : 'E') : '')"}},
                "y": {"field": "depth", "type": "quantitative", "scale": {"domain": [0, 2750], "reverse": true, "nice": false, "zero": false},
                      "axis": {"title": "Depth", "values": [0, 250, 500, 750, 1000, 1250, 1500, 1750, 2000, 2250, 2500, 2750], "labelExpr": "(datum.value == 500 || datum.value == 1500 || datum.value == 2500) ? '' + datum.value : ''"}}
              },
              "layer": [
                {"data": {"name": "bathy"}, "mark": {"type": "area", "color": "#8a8a8a"}, "encoding": {"y2": {"datum": 2750}}},
                {"data": {"name": "sat"}, "mark": {"type": "line"}, "encoding": {"detail": {"field": "id"}, "order": {"value": null}}},
                {"data": {"name": "satl"}, "mark": {"type": "text"}, "encoding": {"text": {"field": "t"}}},
                {"data": {"name": "odv"}, "mark": {"type": "text", "angle": 270, "align": "left", "baseline": "top", "dy": 11, "dx": 2, "fontSize": 13.5, "fontWeight": "normal"}, "encoding": {"text": {"field": "t"}}}
              ]
            }
          ],
          "spacing": 60
        }
      ],
      "spacing": 68
    }
  ],
  "spacing": 81
}
